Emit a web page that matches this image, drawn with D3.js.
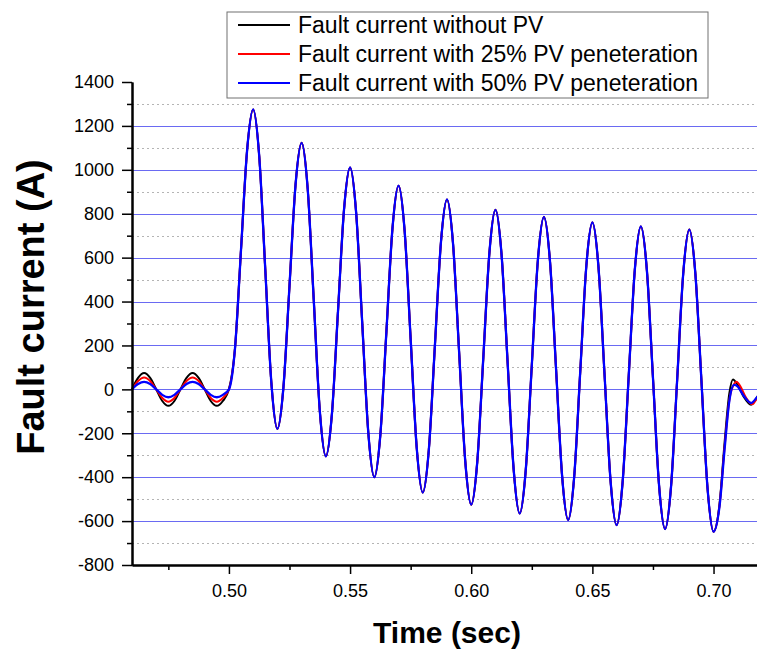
<!DOCTYPE html>
<html>
<head>
<meta charset="utf-8">
<script src="https://cdn.jsdelivr.net/npm/d3@7"></script>
<style>
  html, body { margin: 0; padding: 0; background: #fff; }
  svg { display: block; font-family: "Liberation Sans", Arial, sans-serif; }
</style>
</head>
<body>
<div id="chart"></div>
<script>
// Pre-fault samples [time (s), current (A)], one per series
const preNoPV = [
  [0.46, 0], [0.4625, 52], [0.465, 74], [0.4675, 52], [0.47, 0], [0.4725, -53], [0.475, -75], [0.4775, -53],
  [0.48, 0], [0.4825, 52], [0.485, 74], [0.4875, 52], [0.49, 0], [0.4925, -53], [0.495, -75], [0.4975, -53]
];
const prePV25 = [
  [0.46, 0], [0.4625, 38], [0.465, 54], [0.4675, 38], [0.47, 0], [0.4725, -39], [0.475, -56], [0.4775, -39],
  [0.48, 0], [0.4825, 38], [0.485, 54], [0.4875, 38], [0.49, 0], [0.4925, -39], [0.495, -56], [0.4975, -39]
];
const prePV50 = [
  [0.46, 0], [0.4625, 24], [0.465, 34], [0.4675, 24], [0.47, 0], [0.4725, -25], [0.475, -36], [0.4775, -25],
  [0.48, 0], [0.4825, 24], [0.485, 34], [0.4875, 24], [0.49, 0], [0.4925, -25], [0.495, -36], [0.4975, -25]
];

// During the fault all three traces overlap
const faultCurrent = [
  [0.5, 0], [0.5025, 186], [0.505, 638], [0.5075, 1089], [0.51, 1275], [0.5125, 1063], [0.515, 547], [0.5175, 32],
  [0.52, -180], [0.5225, 10], [0.525, 472], [0.5275, 933], [0.53, 1123], [0.5325, 915], [0.535, 409], [0.5375, -97],
  [0.54, -305], [0.5425, -113], [0.545, 353], [0.5475, 819], [0.55, 1011], [0.5525, 805], [0.555, 305], [0.5575, -194],
  [0.56, -400], [0.5625, -206], [0.565, 264], [0.5675, 734], [0.57, 928], [0.5725, 724], [0.575, 229], [0.5775, -266],
  [0.58, -470], [0.5825, -275], [0.585, 198], [0.5875, 670], [0.59, 865], [0.5925, 662], [0.595, 170], [0.5975, -322],
  [0.6, -525], [0.6025, -329], [0.605, 147], [0.6075, 622], [0.61, 818], [0.6125, 616], [0.615, 126], [0.6175, -363],
  [0.62, -565], [0.6225, -368], [0.625, 110], [0.6275, 588], [0.63, 785], [0.6325, 584], [0.635, 95], [0.6375, -394],
  [0.64, -595], [0.6425, -397], [0.645, 83], [0.6475, 562], [0.65, 760], [0.6525, 559], [0.655, 71], [0.6575, -417],
  [0.66, -618], [0.6625, -419], [0.665, 62], [0.6675, 543], [0.67, 742], [0.6725, 541], [0.675, 53], [0.6775, -435],
  [0.68, -636], [0.6825, -437], [0.685, 46], [0.6875, 529], [0.69, 728], [0.6925, 527], [0.695, 40], [0.6975, -447],
  [0.7, -648]
];

// After fault clearing
const postNoPV = [
  [0.7025, -520], [0.7045, -250], [0.7065, -20], [0.708, 45], [0.71, 20], [0.7125, -35], [0.7155, -70], [0.718, -35], [0.72, -5]
];
const postPV25 = [
  [0.7025, -525], [0.7045, -270], [0.7065, -50], [0.7085, 25], [0.7095, 35], [0.711, 15], [0.7135, -40], [0.716, -68], [0.718, -40], [0.72, -10]
];
const postPV50 = [
  [0.7025, -530], [0.7045, -280], [0.7065, -55], [0.7085, 20], [0.71, 12], [0.7125, -30], [0.7155, -62], [0.718, -35], [0.72, -8]
];

const seriesNames = [
  "Fault current without PV",
  "Fault current with 25% PV peneteration",
  "Fault current with 50% PV peneteration"
];
const seriesColors = ["#000000", "#ff0000", "#0000ff"];
const seriesWidths = [2, 2, 2.3];

const xMajorTicks = [0.50, 0.55, 0.60, 0.65, 0.70];
const xMinorTicks = [0.475, 0.525, 0.575, 0.625, 0.675];
const yMajorTicks = [-800, -600, -400, -200, 0, 200, 400, 600, 800, 1000, 1200, 1400];
const yMinorTicks = [-700, -500, -300, -100, 100, 300, 500, 700, 900, 1100, 1300];

const series = [
  preNoPV.concat(faultCurrent, postNoPV),
  prePV25.concat(faultCurrent, postPV25),
  prePV50.concat(faultCurrent, postPV50)
];

const width = 757, height = 651;

const x = d3.scaleLinear().domain([0.46, 0.72]).range([132, 762]);
const y = d3.scaleLinear().domain([-800, 1400]).range([565, 82]);

const svg = d3.select("#chart")
  .append("svg")
  .attr("width", width)
  .attr("height", height)
  .attr("viewBox", [0, 0, width, height]);

// grid: solid blue on major, dotted grey on minor
svg.append("g")
  .selectAll("line")
  .data(yMinorTicks)
  .join("line")
  .attr("x1", x(0.46))
  .attr("x2", width)
  .attr("y1", (d) => Math.round(y(d)) + 0.5)
  .attr("y2", (d) => Math.round(y(d)) + 0.5)
  .attr("stroke", "#b4b4b4")
  .attr("stroke-dasharray", "2,3");

svg.append("g")
  .selectAll("line")
  .data(yMajorTicks.filter((d) => d > -800 && d < 1400))
  .join("line")
  .attr("x1", x(0.46))
  .attr("x2", width)
  .attr("y1", (d) => Math.round(y(d)) + 0.5)
  .attr("y2", (d) => Math.round(y(d)) + 0.5)
  .attr("stroke", "#6a6af2")
  .attr("stroke-width", 1);

// traces
const line = d3.line()
  .x((d) => x(d[0]))
  .y((d) => y(d[1]))
  .curve(d3.curveMonotoneX);

series.forEach((s, i) => {
  svg.append("path")
    .datum(s)
    .attr("fill", "none")
    .attr("stroke", seriesColors[i])
    .attr("stroke-width", seriesWidths[i])
    .attr("stroke-linejoin", "round")
    .attr("d", line);
});

// axes
const styleAxis = (g) => {
  g.select(".domain").attr("stroke", "#000").attr("stroke-width", 2);
  g.selectAll(".tick line").attr("stroke", "#000").attr("stroke-width", 1.5);
  g.selectAll(".tick text").attr("fill", "#000").attr("font-size", 18)
    .attr("font-family", "Liberation Sans, Arial, sans-serif");
};

svg.append("g")
  .attr("transform", `translate(${x(0.46)},0)`)
  .call(d3.axisLeft(y).tickValues(yMinorTicks).tickSize(5).tickSizeOuter(0).tickFormat(""))
  .call(styleAxis);

svg.append("g")
  .attr("transform", `translate(${x(0.46)},0)`)
  .call(d3.axisLeft(y).tickValues(yMajorTicks).tickSize(10).tickSizeOuter(0).tickPadding(8).tickFormat(d3.format("d")))
  .call(styleAxis)
  .call((g) => g.selectAll(".tick text").text((d) => String(d)));

svg.append("g")
  .attr("transform", `translate(0,${y(-800)})`)
  .call(d3.axisBottom(x).tickValues(xMinorTicks).tickSize(5).tickSizeOuter(0).tickFormat(""))
  .call(styleAxis);

svg.append("g")
  .attr("transform", `translate(0,${y(-800)})`)
  .call(d3.axisBottom(x).tickValues(xMajorTicks).tickSize(9).tickSizeOuter(0).tickPadding(10).tickFormat(d3.format(".2f")))
  .call(styleAxis);

// axis titles
svg.append("text")
  .attr("x", 447)
  .attr("y", 643)
  .attr("text-anchor", "middle")
  .attr("font-size", 30)
  .attr("font-weight", "bold")
  .text("Time (sec)");

svg.append("text")
  .attr("transform", "translate(44,307) rotate(-90)")
  .attr("text-anchor", "middle")
  .attr("font-size", 38)
  .attr("font-weight", "bold")
  .text("Fault current (A)");

// legend
const legend = svg.append("g").attr("transform", "translate(227,12)");
legend.append("rect")
  .attr("width", 481)
  .attr("height", 86)
  .attr("fill", "#fff")
  .attr("stroke", "#707070")
  .attr("stroke-width", 1);

seriesNames.forEach((name, i) => {
  const row = legend.append("g").attr("transform", `translate(0,${13 + i * 29})`);
  row.append("line")
    .attr("x1", 11).attr("x2", 63)
    .attr("stroke", seriesColors[i])
    .attr("stroke-width", 1.8);
  row.append("text")
    .attr("x", 71)
    .attr("y", 8)
    .attr("font-size", 23)
    .attr("fill", "#000")
    .text(name);
});
</script>
</body>
</html>
